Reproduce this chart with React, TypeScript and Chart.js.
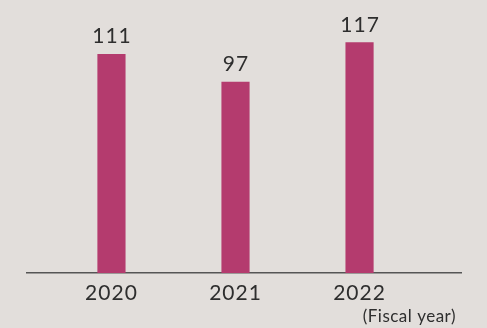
import React, { useEffect, useRef } from "react";
import { Chart, registerables } from "chart.js";

Chart.register(...registerables);

const categories = ["2020", "2021", "2022"];
const values = [111, 97, 117];
const axisNote = "(Fiscal year)";

const BG = "#e2dedb";
const BAR = "#b43b6e";
const TEXT = "#2e2e2e";
const FONT = "Lato, 'Noto Sans', sans-serif";

export default function App() {
  const ref = useRef<HTMLCanvasElement | null>(null);

  useEffect(() => {
    if (!ref.current) return;
    const labelPlugin = {
      id: "labels",
      beforeDraw(chart: any) {
        chart.ctx.letterSpacing = "1px";
      },
      afterDatasetsDraw(chart: any) {
        const ctx = chart.ctx;
        const meta = chart.getDatasetMeta(0);
        ctx.save();
        ctx.letterSpacing = "1px";
        ctx.font = `400 21px ${FONT}`;
        ctx.fillStyle = TEXT;
        ctx.textAlign = "center";
        ctx.textBaseline = "alphabetic";
        meta.data.forEach((bar: any, i: number) => {
          ctx.fillText(String(values[i]), bar.x + 0.5, bar.y - 11);
        });
        ctx.restore();
      },
      afterDraw(chart: any) {
        const ctx = chart.ctx;
        const area = chart.chartArea;
        ctx.save();
        ctx.letterSpacing = "0.5px";
        ctx.font = `400 17px ${FONT}`;
        ctx.fillStyle = TEXT;
        ctx.textAlign = "right";
        ctx.textBaseline = "alphabetic";
        ctx.fillText(axisNote, area.right - 5, 322);
        ctx.restore();
      },
    };

    const chart = new Chart(ref.current, {
      type: "bar",
      data: {
        datasets: [
          {
            data: values.map((v, i) => ({ x: i, y: v })),
            backgroundColor: BAR,
            barThickness: 27.5,
          },
        ],
      },
      options: {
        animation: false,
        responsive: false,
        maintainAspectRatio: false,
        layout: { padding: { top: 17, left: 27, right: 26, bottom: 0 } },
        plugins: { legend: { display: false }, tooltip: { enabled: false } },
        scales: {
          x: {
            type: "linear",
            offset: false,
            min: -0.681,
            max: 2.818,
            grid: { display: false, drawTicks: false, offset: false },
            border: { display: true, color: "#555555", width: 1.5 },
            afterBuildTicks(scale: any) {
              scale.ticks = categories.map((_, i) => ({ value: i }));
            },
            afterFit(scale: any) {
              scale.height = 55;
            },
            ticks: {
              autoSkip: false,
              maxRotation: 0,
              padding: 8,
              color: TEXT,
              font: { family: FONT, size: 21 },
              callback: (v: any) => categories[Number(v)] ?? "",
            },
          },
          y: {
            display: false,
            min: 0,
            max: 130,
          },
        },
      },
      plugins: [labelPlugin],
    });
    return () => chart.destroy();
  }, []);

  return (
    <div
      style={{
        position: "fixed",
        left: 0,
        top: 0,
        width: 487,
        height: 328,
        background: BG,
      }}
    >
      <canvas ref={ref} width={487} height={328} style={{ display: "block" }} />
    </div>
  );
}
